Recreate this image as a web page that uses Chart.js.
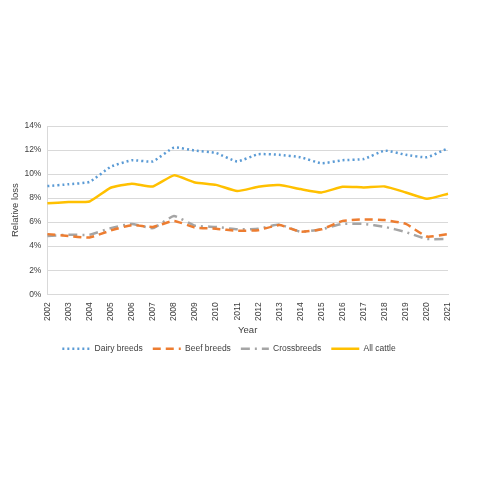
<!DOCTYPE html>
<html>
<head>
<meta charset="utf-8">
<script src="https://cdn.jsdelivr.net/npm/chart.js@4"></script>
<style>
  html, body { margin: 0; padding: 0; background: #fff; }
  #wrap { width: 480px; height: 480px; }
</style>
</head>
<body>
<div id="wrap"><canvas id="myChart" width="480" height="480"></canvas></div>
<script>
const years = ["2002", "2003", "2004", "2005", "2006", "2007", "2008", "2009", "2010", "2011",
  "2012", "2013", "2014", "2015", "2016", "2017", "2018", "2019", "2020", "2021"];
const dairy = [9.0, 9.15, 9.35, 10.6, 11.15, 11.05, 12.2, 11.95, 11.75, 11.05,
  11.65, 11.6, 11.4, 10.9, 11.15, 11.25, 11.95, 11.6, 11.4, 12.15];
const beef = [5.0, 4.85, 4.72, 5.3, 5.75, 5.6, 6.1, 5.55, 5.45, 5.28,
  5.33, 5.75, 5.2, 5.4, 6.1, 6.22, 6.17, 5.85, 4.8, 5.0];
const cross = [4.85, 4.95, 4.95, 5.5, 5.85, 5.5, 6.5, 5.7, 5.6, 5.4,
  5.45, 5.8, 5.2, 5.4, 5.85, 5.85, 5.6, 5.17, 4.6, 4.6];
const allCattle = [7.56, 7.67, 7.72, 8.86, 9.2, 8.97, 9.89, 9.3, 9.1, 8.58,
  8.94, 9.08, 8.75, 8.47, 8.94, 8.89, 8.97, 8.47, 7.94, 8.36];
const yTicks = [0, 2, 4, 6, 8, 10, 12, 14];

const chartPlace = document.getElementById("myChart");
const font = { family: "'Liberation Sans', Arial, sans-serif", size: 8.5 };
const textColor = "#404040";
const gridColor = "#d9d9d9";

function line(label, data, color, dash, width) {
  return {
    label: label,
    data: data,
    borderColor: color,
    backgroundColor: color,
    borderWidth: width,
    borderDash: dash,
    borderCapStyle: "butt",
    pointRadius: 0,
    pointHoverRadius: 0,
    tension: 0.15,
    fill: false
  };
}

// legend samples drawn as short lines with each series' dash pattern
function legendItems(chart) {
  return chart.data.datasets.map(function (ds, i) {
    return {
      text: ds.label,
      fillStyle: ds.borderColor,
      strokeStyle: ds.borderColor,
      lineWidth: ds.borderWidth,
      lineDash: ds.borderDash,
      lineCap: "butt",
      pointStyle: "line",
      fontColor: textColor,
      hidden: false,
      datasetIndex: i
    };
  });
}

const myChart = new Chart(chartPlace, {
  type: "line",
  data: {
    labels: years,
    datasets: [
      line("Dairy breeds", dairy, "#5B9BD5", [2, 3], 2.5),
      line("Beef breeds", beef, "#ED7D31", [8, 5], 2.5),
      line("Crossbreeds", cross, "#A5A5A5", [9, 5, 2, 5], 2.5),
      line("All cattle", allCattle, "#FFC000", [], 2.5)
    ]
  },
  options: {
    responsive: false,
    animation: false,
    devicePixelRatio: 1,
    layout: { padding: { top: 126, bottom: 117, left: 10, right: 32 } },
    plugins: {
      tooltip: { enabled: false },
      legend: {
        position: "bottom",
        labels: {
          color: textColor,
          font: font,
          usePointStyle: true,
          pointStyle: "line",
          pointStyleWidth: 28,
          boxHeight: 6,
          padding: 10,
          generateLabels: legendItems
        }
      }
    },
    scales: {
      x: {
        grid: { display: false, tickLength: 6 },
        border: { color: gridColor },
        ticks: {
          color: textColor,
          font: font,
          minRotation: 90,
          maxRotation: 90,
          autoSkip: false,
          padding: 2
        },
        title: { display: true, text: "Year", color: textColor, font: { family: font.family, size: 9.5 }, padding: { top: 2, bottom: -2 } }
      },
      y: {
        min: 0,
        max: 14,
        grid: { color: gridColor, drawTicks: false },
        border: { color: gridColor },
        afterBuildTicks: function (axis) {
          axis.ticks = yTicks.map(function (v) { return { value: v }; });
        },
        ticks: {
          color: textColor,
          font: font,
          padding: 6,
          callback: function (v) { return v + "%"; }
        },
        title: { display: true, text: "Relative loss", color: textColor, font: { family: font.family, size: 9.5 }, padding: { top: 0, bottom: -3 } }
      }
    }
  }
});
</script>
</body>
</html>
